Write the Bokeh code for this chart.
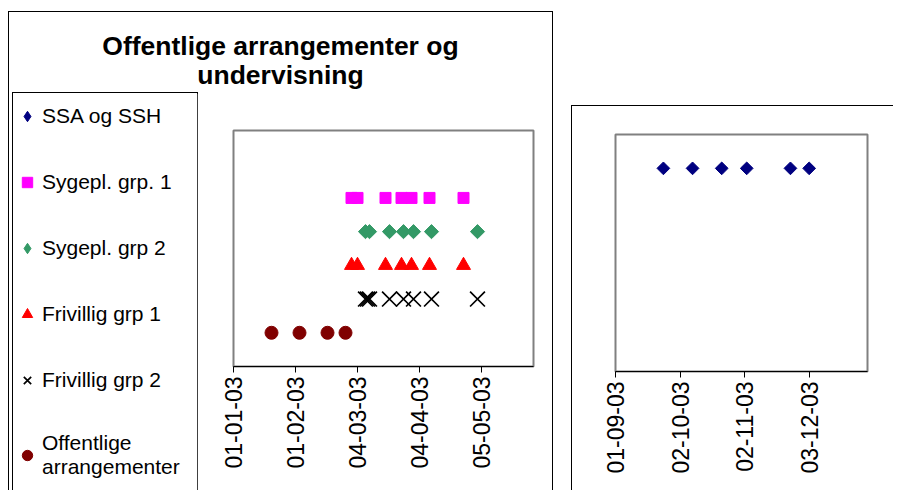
import pandas as pd
from math import pi
from bokeh.plotting import figure
from bokeh.models import (Range1d, FixedTicker, DatetimeTickFormatter, Legend,
                          LegendItem, Spacer, Div)
from bokeh.layouts import row, column
from bokeh.embed import file_html
from bokeh.resources import INLINE

# ---------------- data ----------------
ssa_dates = ["2003-09-24", "2003-10-08", "2003-10-22", "2003-11-03", "2003-11-24", "2003-12-03"]
ssa_y = [6, 6, 6, 6, 6, 6]

syg1_dates = ["2003-03-01", "2003-03-04", "2003-03-18", "2003-03-26", "2003-03-31", "2003-04-09", "2003-04-26"]
syg1_y = [5, 5, 5, 5, 5, 5, 5]

syg2_dates = ["2003-03-08", "2003-03-10", "2003-03-20", "2003-03-27", "2003-04-01", "2003-04-10", "2003-05-03"]
syg2_y = [4, 4, 4, 4, 4, 4, 4]

friv1_dates = ["2003-03-01", "2003-03-04", "2003-03-18", "2003-03-26", "2003-03-31", "2003-04-09", "2003-04-26"]
friv1_y = [3, 3, 3, 3, 3, 3, 3]

friv2_dates = ["2003-03-08", "2003-03-09", "2003-03-10", "2003-03-20", "2003-03-27", "2003-04-01", "2003-04-10", "2003-05-03"]
friv2_y = [2, 2, 2, 2, 2, 2, 2, 2]

off_dates = ["2003-01-20", "2003-02-03", "2003-02-17", "2003-02-26"]
off_y = [1, 1, 1, 1]

left_ticks = ["2003-01-01", "2003-02-01", "2003-03-04", "2003-04-04", "2003-05-05"]
right_ticks = ["2003-09-01", "2003-10-02", "2003-11-02", "2003-12-03"]
left_range = ["2003-01-01", "2003-05-31"]
right_range = ["2003-09-01", "2003-12-31"]
y_range = [0, 7]

title_lines = ["Offentlige arrangementer og", "undervisning"]
labels = ["SSA og SSH", "Sygepl. grp. 1", "Sygepl. grp 2", "Frivillig grp 1",
          "Frivillig grp 2", "Offentlige\narrangementer"]

FONT = "Liberation Sans"


def dts(lst):
    return pd.to_datetime(lst)


def add_series(p, diamond="rot"):
    # diamonds: rotated squares in the plots; the legend swatch cannot rotate,
    # so the legend panel uses Bokeh's diamond marker
    if diamond == "rot":
        dkw = dict(marker="square", angle=pi / 4)
        s_ssa, s_s2 = 9, 10
    else:
        dkw = dict(marker="diamond")
        s_ssa, s_s2 = 14, 14
    return [
        p.scatter(dts(ssa_dates), ssa_y, size=s_ssa, color="#000080", **dkw),
        p.scatter(dts(syg1_dates), syg1_y, marker="square", size=11, color="#FF00FF"),
        p.scatter(dts(syg2_dates), syg2_y, size=s_s2, color="#339966", **dkw),
        p.scatter(dts(friv1_dates), friv1_y, marker="triangle", size=14, color="#FF0000"),
        p.scatter(dts(friv2_dates), friv2_y, marker="x", size=21, line_color="black", line_width=1.7),
        p.scatter(dts(off_dates), off_y, marker="circle", size=13, color="#800000"),
    ]


def style_axis(p, ticks):
    ax = p.xaxis[0]
    ax.ticker = FixedTicker(ticks=[pd.Timestamp(t).value // 10**6 for t in ticks])
    f = "%d-%m-%y"
    ax.formatter = DatetimeTickFormatter(days=f, months=f, years=f, hours=f, hourmin=f,
                                         minutes=f, minsec=f, seconds=f,
                                         milliseconds=f, microseconds=f)
    ax.major_label_orientation = pi / 2
    ax.major_label_text_font = FONT
    ax.major_label_text_font_size = "23px"
    ax.major_label_text_color = "black"
    ax.axis_line_color = "black"
    ax.major_tick_line_color = "black"
    ax.minor_tick_line_color = None
    ax.major_tick_in = 0
    ax.major_tick_out = 6
    ax.major_label_standoff = 4
    p.xgrid.visible = False
    p.ygrid.visible = False
    p.outline_line_color = "#808080"
    p.outline_line_width = 2


# ---------------- title ----------------
title_div = Div(
    text=('<div style="width:543px;text-align:center;font-family:\'Liberation Sans\';'
          'font-weight:bold;font-size:26.5px;line-height:29px;padding-top:20px;color:black;">'
          + "<br>".join(title_lines) + "</div>"),
    width=543, height=81, margin=(0, 0, 0, 0))

# ---------------- legend panel ----------------
leg_fig = figure(width=184, height=397, x_range=Range1d(0, 1), y_range=Range1d(0, 1),
                 title=None, x_axis_location=None, y_axis_location=None,
                 output_backend="svg", toolbar_location=None,
                 min_border_left=0, min_border_right=0, min_border_top=7,
                 min_border_bottom=0, outline_line_color=None,
                 styles={"outline": "1px solid black"})
leg_fig.xgrid.visible = False
leg_fig.ygrid.visible = False
leg_renderers = add_series(leg_fig, diamond="marker")
legend = Legend(items=[LegendItem(label=l, renderers=[r]) for l, r in zip(labels, leg_renderers)],
                location="top_left", margin=1, padding=0, spacing=36,
                glyph_width=26, glyph_height=26, label_height=30,
                label_standoff=2, border_line_color=None,
                background_fill_color="white", background_fill_alpha=1,
                label_text_font=FONT, label_text_font_size="21px", label_text_color="black")
leg_fig.add_layout(legend, "center")

# ---------------- left chart ----------------
left = figure(width=355, height=397, x_axis_type="datetime",
              x_range=Range1d(*dts(left_range)), y_range=Range1d(*y_range),
              y_axis_location=None, output_backend="svg", toolbar_location=None,
              min_border_left=36, min_border_right=19, min_border_top=37,
              min_border_bottom=124)
style_axis(left, left_ticks)
add_series(left)

left_box = column(title_div,
                  row(Spacer(width=4), column(leg_fig), column(left)),
                  styles={"outline": "1px solid black"})

# ---------------- right chart ----------------
right = figure(width=322, height=385, x_axis_type="datetime",
               x_range=Range1d(*dts(right_range)), y_range=Range1d(*y_range),
               y_axis_location=None, output_backend="svg", toolbar_location=None,
               min_border_left=43, min_border_right=27, min_border_top=28,
               min_border_bottom=120,
               styles={"border-left": "1px solid black", "border-top": "1px solid black"})
style_axis(right, right_ticks)
add_series(right)

layout = row(Spacer(width=9),
             column(Spacer(height=12), left_box),
             Spacer(width=19),
             column(Spacer(height=105), right))
open("out.html", "w").write(file_html(layout, INLINE))
